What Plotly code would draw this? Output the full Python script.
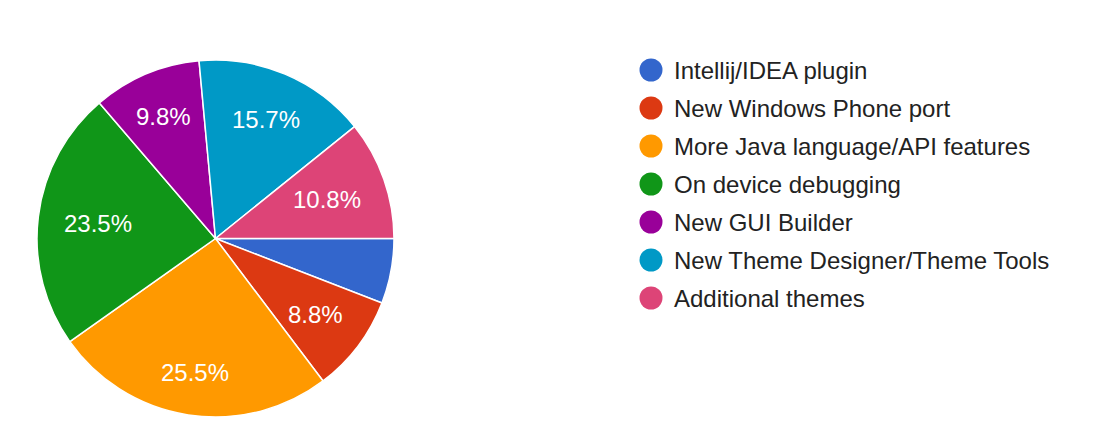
import math
import plotly.graph_objects as go

labels = [
    "Intellij/IDEA plugin",
    "New Windows Phone port",
    "More Java language/API features",
    "On device debugging",
    "New GUI Builder",
    "New Theme Designer/Theme Tools",
    "Additional themes",
]
votes = [6, 9, 26, 24, 10, 16, 11]
colors = ["#3366cc", "#dc3912", "#ff9900", "#109618", "#990099", "#0099c6", "#dd4477"]

W, H = 1108, 432
FONT = "Liberation Sans, Arial, sans-serif"
FS = 24

# pie geometry (figure pixels)
CX, CY, R = 207.5, 230.5, 178.5
LABEL_RIM = 0.857      # outer corner of each label box sits on this fraction of the radius
START_DEG = 0.0        # first slice starts at 3 o'clock, clockwise

# approximate Arial advance widths (em) for label glyphs
ADV = {".": 0.278, "%": 0.889}


def text_width(s, size):
    return sum(ADV.get(ch, 0.556) for ch in s) * size


total = sum(votes)

fig = go.Figure()
fig.add_trace(go.Pie(
    labels=labels,
    values=votes,
    marker=dict(colors=colors, line=dict(color="white", width=1.5)),
    sort=False,
    direction="clockwise",
    rotation=90,
    textinfo="none",
    showlegend=False,
    hoverinfo="label+percent",
    domain=dict(x=[(CX - R) / W, (CX + R) / W], y=[(H - CY - R) / H, (H - CY + R) / H]),
))

# slice percentage labels, placed along each slice's bisector
cum = 0.0
rc = LABEL_RIM * R
for v in votes:
    frac = v / total
    mid = START_DEG + (cum + frac / 2) * 360.0
    cum += frac
    if frac < 0.06:
        continue
    txt = f"{frac * 100:.1f}%"
    a = math.radians(mid)
    ux, uy = math.cos(a), math.sin(a)
    ex = math.copysign(text_width(txt, FS) / 2, ux)
    ey = math.copysign(0.716 * FS / 2, uy)
    ue = ux * ex + uy * ey
    d = -ue + math.sqrt(ue * ue - (ex * ex + ey * ey) + rc * rc)
    px = CX + d * ux
    py = CY + d * uy
    fig.add_annotation(
        x=px / W, y=(H - py) / H, xref="paper", yref="paper",
        text=txt, showarrow=False,
        xanchor="center", yanchor="middle",
        font=dict(family=FONT, size=FS, color="white"),
    )

# legend drawn as circles on hidden axes
rows = list(range(len(labels)))
fig.add_trace(go.Scatter(
    x=[0] * len(labels),
    y=rows,
    mode="markers",
    marker=dict(size=23, color=colors, symbol="circle"),
    showlegend=False,
    hoverinfo="skip",
))
for i, lab in enumerate(labels):
    fig.add_annotation(
        x=0, y=i, xref="x", yref="y", text=lab, showarrow=False,
        xanchor="left", yanchor="middle", xshift=21,
        font=dict(family=FONT, size=FS, color="#222222"),
    )

LEG_X0 = 643.0
dom_start = 554.0
span = W - dom_start
unit = LEG_X0 - dom_start
fig.update_layout(
    width=W, height=H,
    margin=dict(l=0, r=0, t=0, b=0),
    paper_bgcolor="white", plot_bgcolor="white",
    xaxis=dict(domain=[dom_start / W, 1.0], range=[-1, -1 + span / unit], visible=False, fixedrange=True),
    yaxis=dict(domain=[(H - 309) / H, (H - 43) / H], range=[6.5, -0.5], visible=False, fixedrange=True),
)

fig.write_html("out.html")
